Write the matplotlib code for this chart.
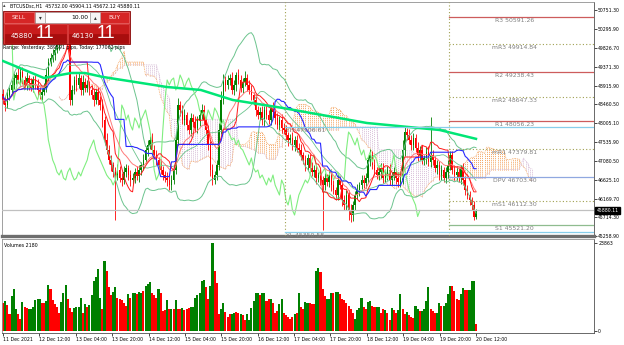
import numpy as np
import pandas as pd
import matplotlib
matplotlib.use("Agg")
import matplotlib.pyplot as plt
import matplotlib.transforms as mtransforms
from matplotlib.patches import Rectangle

plt.rcParams['font.family'] = ['DejaVu Sans']

# ---- donnees (BTCUSDsc, H1) ----
FIRST_OPEN = 48700
CLOSES = [
    48564, 48442, 48686, 48807, 48929, 49098, 49171, 49050, 49244, 49050,
    48929, 49098, 48977, 48856, 49050, 48929, 48807, 48686, 48758, 48856,
    49171, 49487, 49584, 49657, 49779, 49900, 50022, 50143, 50265, 50313,
    50386, 48564, 48807, 49050, 48929, 49098, 48807, 49001, 48856, 48929,
    48807, 48686, 48564, 48758, 48564, 48442, 48078, 47592, 47349, 47106,
    46984, 46814, 46741, 46863, 46668, 46620, 46814, 46911, 46741, 46620,
    46668, 46814, 46717, 46863, 46984, 47106, 47349, 47470, 47592, 47349,
    47228, 47106, 46984, 46863, 46741, 46668, 46620, 46498, 46620, 46863,
    47592, 48442, 48321, 48078, 48199, 47956, 47835, 48127, 48029, 47883,
    48078, 48199, 48321, 48078, 47835, 47470, 46863, 46620, 46741, 46984,
    47835, 48564, 49050, 48929, 49050, 49098, 48807, 48929, 49171, 49050,
    48856, 49001, 49098, 48929, 48807, 48686, 48564, 48321, 48199, 48273,
    48078, 48321, 48199, 48078, 48370, 48273, 48127, 47956, 48078, 47883,
    47835, 47713, 47592, 47640, 47470, 47592, 47397, 47349, 47228, 47106,
    46984, 47155, 46911, 46814, 46863, 46668, 46741, 46620, 46498, 46668,
    46571, 46741, 46498, 46377, 46255, 46620, 46498, 46134, 46012, 46255,
    45891, 45769, 46012, 46255, 46377, 46498, 46620, 46547, 46668, 47106,
    47228, 46984, 46863, 46741, 46814, 46911, 46668, 46741, 46863, 46620,
    46717, 46814, 46668, 46571, 46620, 47349, 47786, 47713, 47592, 47470,
    47640, 47397, 47228, 47349, 47106, 47155, 47300, 47057, 47228, 47106,
    46911, 46984, 46741, 46863, 46668, 46814, 46984, 47228, 46863, 46741,
    46814, 46668, 46911, 46620, 46377, 46255, 46134, 46012, 45732, 45880.11,
]
UP_WICK = [
    120, 90, 150, 80, 110, 130, 70, 160, 90, 120, 100, 140, 80, 110, 90, 130, 150, 70, 100, 120,
    160, 90, 110, 140, 80, 130, 100, 150, 120, 90, 120, 150, 110, 90, 140, 120, 80, 160, 100, 130,
    90, 110, 150, 80, 120, 100, 140, 90, 160, 110, 130, 80, 120, 150, 90, 110, 140, 100, 80, 130,
    120, 90, 150, 110, 80, 140, 100, 130, 90, 160, 110, 120, 80, 150, 100, 90, 140, 120, 110, 130,
    200, 160, 90, 120, 140, 80, 110, 130, 100, 150, 90, 120, 140, 110, 80, 130, 100, 150, 90, 120,
    160, 220, 150, 100, 130, 90, 150, 110, 80, 140, 120, 100, 160, 90, 130, 110, 80, 150, 100, 120,
    140, 90, 110, 130, 80, 150, 100, 120, 90, 140, 110, 130, 80, 100, 150, 90, 120, 110, 140, 80,
    130, 100, 90, 150, 120, 110, 80, 140, 100, 130, 90, 120, 150, 110, 80, 140, 100, 90, 130, 120,
    110, 150, 90, 100, 140, 80, 130, 120, 110, 90, 150, 100, 140, 80, 120, 110, 130, 110, 90, 140,
    100, 120, 80, 150, 110, 250, 130, 100, 140, 120, 110, 90, 150, 100, 130, 80, 120, 140, 920, 110,
    90, 130, 100, 120, 80, 110, 130, 100, 90, 120, 140, 100, 80, 110, 90, 120, 100, 80, 90, 24,
]
DN_WICK = [
    100, 140, 80, 120, 90, 110, 150, 70, 130, 100, 90, 120, 160, 80, 110, 100, 140, 90, 120, 80,
    110, 150, 90, 100, 130, 80, 120, 110, 90, 140, 100, 130, 120, 90, 150, 80, 110, 130, 100, 90,
    120, 100, 140, 90, 110, 130, 160, 120, 100, 90, 140, 110, 1090, 130, 100, 150, 90, 120, 110, 140,
    100, 130, 90, 150, 110, 120, 80, 140, 100, 130, 90, 110, 150, 100, 120, 90, 140, 110, 130, 100,
    90, 120, 140, 100, 110, 130, 90, 150, 120, 100, 110, 140, 90, 130, 100, 120, 150, 110, 90, 130,
    120, 100, 90, 140, 110, 130, 100, 120, 150, 90, 110, 130, 100, 140, 90, 120, 110, 150, 100, 130,
    110, 140, 100, 90, 130, 120, 150, 100, 110, 130, 90, 120, 140, 100, 110, 150, 90, 130, 120, 100,
    140, 110, 130, 100, 120, 150, 90, 110, 1100, 130, 100, 120, 140, 90, 110, 130, 100, 150, 120, 110,
    240, 170, 150, 120, 100, 140, 90, 130, 110, 120, 150, 100, 130, 90, 110, 140, 120, 100, 130, 110,
    120, 90, 140, 110, 130, 100, 150, 120, 90, 110, 130, 100, 140, 120, 90, 110, 150, 100, 130, 120,
    100, 140, 110, 130, 90, 120, 150, 110, 100, 130, 120, 90, 140, 110, 130, 100, 120, 110, 90, 60,
]
VOLUMES = [
    7470, 8100, 6930, 4500, 9450, 11430, 5850, 4500, 3330, 7830,
    6570, 6300, 5850, 5850, 6570, 8370, 8550, 8730, 7650, 7650,
    8100, 12600, 11430, 8370, 7200, 6570, 4950, 7830, 10350, 12600,
    8550, 6300, 5130, 6300, 6480, 6570, 9000, 4950, 7200, 6570,
    7110, 9630, 13500, 14670, 16830, 9000, 6030, 18990, 16290, 11970,
    9630, 10530, 11970, 9000, 8730, 8370, 7650, 6750, 9900, 9000,
    10170, 10350, 9900, 10530, 10350, 10800, 12150, 12780, 13320, 10350,
    9810, 9000, 11520, 10170, 5400, 5580, 8370, 5850, 6030, 6030,
    8370, 5850, 6030, 6210, 5670, 6030, 6300, 6570, 6570, 9000,
    9720, 10350, 13500, 13770, 11970, 8730, 12330, 23863, 16380, 13050,
    4500, 6030, 7470, 5130, 3870, 4500, 4500, 4950, 5130, 4770,
    4500, 4230, 2970, 4500, 2970, 6300, 8100, 10350, 10170, 9810,
    10350, 10350, 8190, 8730, 8550, 7470, 4950, 5490, 7200, 8730,
    4770, 4230, 3870, 3330, 3870, 4680, 4770, 10350, 6570, 6030,
    7830, 7650, 7470, 7380, 7200, 16200, 17100, 16110, 11520, 9450,
    8550, 8730, 10350, 10350, 10530, 10710, 10080, 8550, 8370, 7470,
    6750, 5850, 4950, 3330, 5670, 6210, 8820, 6570, 6030, 7830,
    8100, 6750, 6570, 6570, 6570, 4770, 5850, 5580, 4950, 2970,
    6120, 5580, 4950, 5670, 10080, 5850, 4500, 5130, 4230, 3870,
    3600, 6750, 6030, 5400, 5400, 5850, 8100, 11970, 5850, 5400,
    4950, 4770, 7650, 6750, 6750, 7650, 9900, 12330, 12330, 10800,
    8730, 8370, 9900, 11700, 11250, 11070, 11250, 13500, 13680, 1980,
]
VOL_COLORS = ("RGRRGGGRRG" "RRGGGGGGRR" "GGRRRRRGGG" "RRRGGGGRGR" "GGGGGGRGRR"
              "RGGRRRRRGR" "GGRGGRGGGR" "RRGRRRGRGR" "GRRGRRRGGG" "GGGGRRGGRR"
              "RGGRRRGGRR" "GRRGGGGGGR" "GGRRGRRRGG" "RRRRRGRGRR" "GGRRRGGRRR"
              "GGGRGGRRRR" "RRRGGGGRRG" "GRRGGRRGRR" "GRRGGRRGRR" "RGGRGGGGRR"
              "RGGRGGGGRR" "RRGGRRGGGR")

# moyenne mobile longue (ligne verte epaisse), points lus
MA_HOURS = [0, 18, 30, 36, 44, 72, 87, 101, 123, 160, 192, 208]
MA_VALUES = [49511, 49098, 49220, 49220, 49123, 48880, 48807, 48564, 48370, 48005, 47835, 47620]

PIVOT_NAMES = ['R3', 'mR3', 'R2', 'mR2', 'R1', 'mR1', 'DPV', 'mS1', 'S1']
PIVOT_VALUES = [50591.26, 49914.84, 49238.43, 48647.33, 48056.23, 47379.81, 46703.40, 46112.30, 45521.20]
YH_VALUE, YL_VALUE = 47906.61, 45350.58
BID, ASK = 45880.11, 46130.11

PRICE_TICKS = [50751.30, 50295.90, 49826.70, 49371.30, 48915.90, 48460.50, 48005.10,
               47535.90, 47080.50, 46625.10, 46169.70, 45714.30, 45258.90]
TIME_LABELS = ['11 Dec 2021', '12 Dec 12:00', '13 Dec 04:00', '13 Dec 20:00', '14 Dec 12:00',
               '15 Dec 04:00', '15 Dec 20:00', '16 Dec 12:00', '17 Dec 04:00', '17 Dec 20:00',
               '18 Dec 12:00', '19 Dec 04:00', '19 Dec 20:00', '20 Dec 12:00']
TIME_HOURS = [0, 16, 32, 48, 64, 80, 96, 112, 128, 144, 160, 176, 192, 208]
SEPARATOR_HOURS = [124, 196]
TOTAL_HOURS = 208

# ---- figure ----
W, H = 624, 345
fig = plt.figure(figsize=(W / 100, H / 100), dpi=100)
fig.patch.set_facecolor('white')

def rect_fig(x0, y0, x1, y1):
    return [x0 / W, 1 - y1 / H, (x1 - x0) / W, (y1 - y0) / H]

ax = fig.add_axes(rect_fig(2, 2, 594, 236))
axv = fig.add_axes(rect_fig(2, 239, 594, 333))

n = len(CLOSES)
ph = (n - 1) / TOTAL_HOURS
x = np.arange(n)
c = np.array(CLOSES, dtype=float)
o = np.r_[FIRST_OPEN, c[:-1]]
hi = np.maximum(o, c) + np.array(UP_WICK)
lo = np.minimum(o, c) - np.array(DN_WICK)

# Ichimoku + Bollinger calcules sur les bougies
sh, sl, sc = pd.Series(hi), pd.Series(lo), pd.Series(c)
tenkan = (sh.rolling(9, min_periods=1).max() + sl.rolling(9, min_periods=1).min()) / 2
kijun = (sh.rolling(26, min_periods=1).max() + sl.rolling(26, min_periods=1).min()) / 2
span_a = ((tenkan + kijun) / 2).values
span_b = ((sh.rolling(52, min_periods=1).max() + sl.rolling(52, min_periods=1).min()) / 2).values
bb_mid = sc.rolling(20, min_periods=2).mean()
bb_sd = sc.rolling(20, min_periods=2).std(ddof=0)
ema = sc.ewm(span=13, adjust=False).mean()

# nuage
xs = x + 26
cloud_col = np.where(span_a >= span_b, '#F4A460', '#D8BFD8')
ax.vlines(xs, np.minimum(span_a, span_b), np.maximum(span_a, span_b), colors=cloud_col,
          linestyles=(0, (1, 1)), lw=0.7, zorder=2)
ax.plot(xs, span_a, color='#F4A460', lw=0.6, ls=(0, (1, 1)), zorder=2)
ax.plot(xs, span_b, color='#D8BFD8', lw=0.6, ls=(0, (1, 1)), zorder=2)

# bougies
col = np.where(c >= o, '#008000', '#FF0000')
ax.vlines(x, lo, hi, colors=col, lw=0.6, zorder=3)
ax.bar(x, np.maximum(np.abs(c - o), 10), bottom=np.minimum(o, c), width=0.7,
       color=col, linewidth=0, zorder=3)

# indicateurs
bbc = '#6CC48E'
ax.plot(x, bb_mid + 2 * bb_sd, color=bbc, lw=0.7, zorder=4)
ax.plot(x, bb_mid - 2 * bb_sd, color=bbc, lw=0.7, zorder=4)
ax.plot(x, bb_mid, color=bbc, lw=0.6, zorder=4)
ax.plot(x[:-26], c[26:], color='#80EE80', lw=0.8, zorder=4)
ax.plot(x, ema, color='#FF7A7A', lw=0.7, zorder=4)
ax.plot(x, tenkan, color='#FF1A1A', lw=0.7, zorder=4)
ax.plot(x, kijun, color='#2828FF', lw=0.8, zorder=4)
ax.plot(np.array(MA_HOURS) * ph, MA_VALUES, color='#00E676', lw=1.8, zorder=5)

x_left, x_right = -0.44 * ph, 259.9 * ph
ax.set_xlim(x_left, x_right)
ax.set_ylim(45258.9, 50945)

# separateurs
for hs in SEPARATOR_HOURS:
    ax.axvline(hs * ph, color='#A0A050', ls=(0, (1, 2)), lw=0.8, zorder=6)

# lignes horizontales
ax.axhline(BID, color='#C0C0C0', lw=0.9, zorder=6)
x_day = SEPARATOR_HOURS[1] * ph
x_yd = SEPARATOR_HOURS[0] * ph
x_mid = (x_day + x_right) / 2 - 3
for name, val in zip(PIVOT_NAMES, PIVOT_VALUES):
    if name.startswith('m'):
        kw = dict(color='#A0A050', ls=(0, (1, 2)), lw=0.8)
    elif name.startswith('R'):
        kw = dict(color='#CD5C5C', ls='-', lw=0.9)
    elif name == 'DPV':
        kw = dict(color='#90A8E0', ls='-', lw=0.9)
    else:
        kw = dict(color='#8FBC8F', ls='-', lw=0.9)
    ax.plot([x_day, x_right], [val, val], zorder=6, **kw)
    ax.text(x_mid, val - 25, f"{name} {val:.2f}", fontsize=4.4, color='#808080',
            ha='center', va='top', zorder=7)
for tag, val in [('YH', YH_VALUE), ('YL', YL_VALUE)]:
    ax.plot([x_yd, x_right], [val, val], color='#87CEEB', lw=0.9, zorder=6)
    ax.text(x_yd + 0.5, val - 25, f"{tag} {val:.2f}", fontsize=4.4, color='#808080',
            ha='left', va='top', zorder=7)

# axe des prix
ax.yaxis.tick_right()
ax.set_yticks(PRICE_TICKS)
ax.set_yticklabels([f"{t:.2f}" for t in PRICE_TICKS])
ax.tick_params(axis='y', labelsize=3.3, length=2, width=0.5, pad=1, colors='black')
ax.set_xticks([])
for s in ax.spines.values():
    s.set_color('#909090')
    s.set_linewidth(0.6)
ax.spines['right'].set_color('#505050')
ax.spines['bottom'].set_color('#6E6E6E')
ax.spines['bottom'].set_linewidth(2.4)
tr = mtransforms.blended_transform_factory(ax.transAxes, ax.transData)
ax.text(1.004, BID, f"{BID:.2f}", transform=tr, fontsize=3.3, color='white', va='center',
        ha='left', bbox=dict(boxstyle='square,pad=0.25', fc='black', ec='black'), zorder=8)

# volumes
vcol = ['#008000' if ch == 'G' else '#FF0000' for ch in VOL_COLORS]
axv.bar(x, VOLUMES, width=0.95, color=vcol, linewidth=0)
axv.set_xlim(x_left, x_right)
axv.set_ylim(-542, 24947)
axv.yaxis.tick_right()
axv.set_yticks([0, max(VOLUMES)])
axv.set_yticklabels(['0', str(max(VOLUMES))])
axv.tick_params(axis='y', labelsize=3.3, length=2, width=0.5, pad=1)
axv.set_xticks(np.array(TIME_HOURS) * ph)
axv.set_xticklabels(TIME_LABELS, ha='left')
axv.tick_params(axis='x', labelsize=3.3, length=2, width=0.5, pad=1)
for s in axv.spines.values():
    s.set_color('#909090')
    s.set_linewidth(0.6)
axv.spines['right'].set_color('#505050')
axv.spines['bottom'].set_color('#505050')
axv.text(0.004, 0.96, "Volumes 2180", transform=axv.transAxes, fontsize=3.4, va='top')

# panneau One Click Trading
def box(x0, y0, x1, y1, fc, ec=None, lw=0.5):
    fig.add_artist(Rectangle((x0 / W, 1 - y1 / H), (x1 - x0) / W, (y1 - y0) / H,
                             transform=fig.transFigure, facecolor=fc,
                             edgecolor=ec if ec else fc, linewidth=lw, zorder=10))

def label(xp, yp, s, **kw):
    fig.text(xp / W, 1 - yp / H, s, zorder=11, **kw)

label(3, 6, "\u25b4", fontsize=3.6, color='#404040', va='center')
label(10, 6, "BTCUSDsc,H1  45732.00 45904.11 45672.12 45880.11", fontsize=3.4, va='center')
box(3, 11, 130, 44, '#B01515', '#8A0A0A', 0.6)
box(4, 12, 34, 23, '#D62626', '#F07070', 0.5)
box(100, 12, 129, 23, '#D62626', '#F07070', 0.5)
box(35, 12, 45, 23, '#F4F4F4', '#A0A0A0', 0.4)
box(45, 12, 90, 23, 'white', '#A0A0A0', 0.4)
box(90, 12, 100, 23, '#F4F4F4', '#A0A0A0', 0.4)
label(19, 17.5, "SELL", fontsize=4.3, color='#FFE4E4', ha='center', va='center')
label(114.5, 17.5, "BUY", fontsize=4.3, color='#FFE4E4', ha='center', va='center')
label(40, 17.5, "\u25be", fontsize=4, color='#303030', ha='center', va='center')
label(95, 17.5, "\u25b4", fontsize=4, color='#303030', ha='center', va='center')
label(88, 17.5, "10.00", fontsize=4.3, color='black', ha='right', va='center')
box(4, 24, 67, 43, '#C81C1C', '#E04848', 0.5)
box(68, 24, 129, 43, '#C81C1C', '#E04848', 0.5)
box(5, 34, 66, 42.5, '#A80E0E')
box(69, 34, 128, 42.5, '#A80E0E')
label(11, 36, f"{BID:.2f}"[:5], fontsize=5, color='white', va='center')
label(36, 33.5, f"{BID:.2f}"[-2:], fontsize=13, color='white', va='center',
      family='Liberation Sans')
label(72, 36, f"{ASK:.2f}"[:5], fontsize=5, color='white', va='center')
label(97, 33.5, f"{ASK:.2f}"[-2:], fontsize=13, color='white', va='center',
      family='Liberation Sans')
label(3, 47.5, "Range: Yesterday: 389591 pips, Today: 177062 pips", fontsize=3.4, va='center')

fig.savefig('out.png', dpi=100, facecolor='white')
